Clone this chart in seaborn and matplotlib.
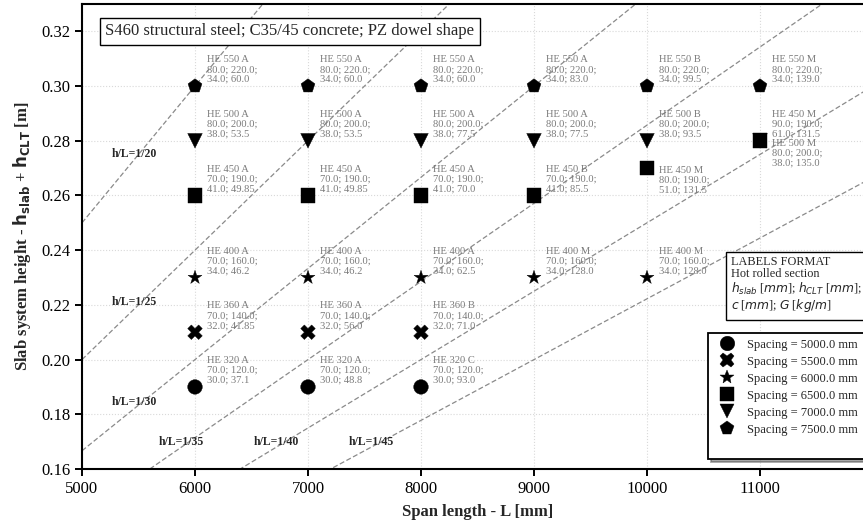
import matplotlib
matplotlib.use("Agg")
import matplotlib.pyplot as plt
import seaborn as sns
import numpy as np
import pandas as pd
from matplotlib.lines import Line2D

# ---------------- data ----------------
spacings = [5000.0, 5500.0, 6000.0, 6500.0, 7000.0, 7500.0]
marker_map = {5000.0: "o", 5500.0: "X", 6000.0: "*", 6500.0: "s", 7000.0: "v", 7500.0: "p"}

# spacing 5000 mm
L_5000 = [6000, 7000, 8000]
h_5000 = [0.19, 0.19, 0.19]
sec_5000 = ["HE 320 A", "HE 320 A", "HE 320 C"]
prm_5000 = [(70.0, 120.0, 30.0, 37.1), (70.0, 120.0, 30.0, 48.8), (70.0, 120.0, 30.0, 93.0)]
pos_5000 = ["above", "above", "above"]

# spacing 5500 mm
L_5500 = [6000, 7000, 8000]
h_5500 = [0.21, 0.21, 0.21]
sec_5500 = ["HE 360 A", "HE 360 A", "HE 360 B"]
prm_5500 = [(70.0, 140.0, 32.0, 41.85), (70.0, 140.0, 32.0, 56.0), (70.0, 140.0, 32.0, 71.0)]
pos_5500 = ["above", "above", "above"]

# spacing 6000 mm
L_6000 = [6000, 7000, 8000, 9000, 10000]
h_6000 = [0.23, 0.23, 0.23, 0.23, 0.23]
sec_6000 = ["HE 400 A", "HE 400 A", "HE 400 A", "HE 400 M", "HE 400 M"]
prm_6000 = [(70.0, 160.0, 34.0, 46.2), (70.0, 160.0, 34.0, 46.2), (70.0, 160.0, 34.0, 62.5),
            (70.0, 160.0, 34.0, 128.0), (70.0, 160.0, 34.0, 128.0)]
pos_6000 = ["above"] * 5

# spacing 7000 mm (drawn before 6500 so squares sit on top)
L_7000 = [6000, 7000, 8000, 9000, 10000, 11000]
h_7000 = [0.28, 0.28, 0.28, 0.28, 0.28, 0.28]
sec_7000 = ["HE 500 A", "HE 500 A", "HE 500 A", "HE 500 A", "HE 500 B", "HE 500 M"]
prm_7000 = [(80.0, 200.0, 38.0, 53.5), (80.0, 200.0, 38.0, 53.5), (80.0, 200.0, 38.0, 77.5),
            (80.0, 200.0, 38.0, 77.5), (80.0, 200.0, 38.0, 93.5), (80.0, 200.0, 38.0, 135.0)]
pos_7000 = ["above"] * 5 + ["below"]

# spacing 6500 mm
L_6500 = [6000, 7000, 8000, 9000, 10000, 11000]
h_6500 = [0.26, 0.26, 0.26, 0.26, 0.27, 0.28]
sec_6500 = ["HE 450 A", "HE 450 A", "HE 450 A", "HE 450 B", "HE 450 M", "HE 450 M"]
prm_6500 = [(70.0, 190.0, 41.0, 49.85), (70.0, 190.0, 41.0, 49.85), (70.0, 190.0, 41.0, 70.0),
            (70.0, 190.0, 41.0, 85.5), (80.0, 190.0, 51.0, 131.5), (90.0, 190.0, 61.0, 131.5)]
pos_6500 = ["above", "above", "above", "above", "below", "above"]

# spacing 7500 mm
L_7500 = [6000, 7000, 8000, 9000, 10000, 11000]
h_7500 = [0.30, 0.30, 0.30, 0.30, 0.30, 0.30]
sec_7500 = ["HE 550 A", "HE 550 A", "HE 550 A", "HE 550 A", "HE 550 B", "HE 550 M"]
prm_7500 = [(80.0, 220.0, 34.0, 60.0), (80.0, 220.0, 34.0, 60.0), (80.0, 220.0, 34.0, 60.0),
            (80.0, 220.0, 34.0, 83.0), (80.0, 220.0, 34.0, 99.5), (80.0, 220.0, 34.0, 139.0)]
pos_7500 = ["above"] * 6

# slenderness lines h/L = 1/n
ratios = [20, 25, 30, 35, 40, 45]
ratio_label_pos = {20: (5260, 0.2750), 25: (5260, 0.2210), 30: (5260, 0.1845),
                   35: (5680, 0.1700), 40: (6520, 0.1700), 45: (7360, 0.1700)}

groups = [
    (5000.0, L_5000, h_5000, sec_5000, prm_5000, pos_5000),
    (5500.0, L_5500, h_5500, sec_5500, prm_5500, pos_5500),
    (6000.0, L_6000, h_6000, sec_6000, prm_6000, pos_6000),
    (7000.0, L_7000, h_7000, sec_7000, prm_7000, pos_7000),
    (6500.0, L_6500, h_6500, sec_6500, prm_6500, pos_6500),
    (7500.0, L_7500, h_7500, sec_7500, prm_7500, pos_7500),
]

rows = []
for sp, Ls, hs, secs, prms, poss in groups:
    for L, h, s, p, ps in zip(Ls, hs, secs, prms, poss):
        rows.append(dict(L=L, h=h, Spacing=f"Spacing = {sp:.1f} mm", sec=s,
                         hslab=p[0], hclt=p[1], c=p[2], G=p[3], pos=ps))
df = pd.DataFrame(rows)

# ---------------- style ----------------
sns.set_style("white")
plt.rcParams["font.family"] = ["Liberation Serif", "DejaVu Serif"]
plt.rcParams["mathtext.fontset"] = "dejavusans"

fig = plt.figure(figsize=(8.63, 5.27), dpi=100)
ax = fig.add_axes([82 / 863, 58 / 527, 791 / 863, 465 / 527])

ax.set_xlim(5000, 12000)
ax.set_ylim(0.16, 0.33)
ax.set_xticks([5000, 6000, 7000, 8000, 9000, 10000, 11000])
ax.set_yticks(np.arange(0.16, 0.3301, 0.02))
ax.grid(True, linestyle=":", color="#d9d9d9", linewidth=0.8)
ax.set_axisbelow(True)

# slenderness lines
Lgrid = np.array([5000.0, 12000.0])
for n in ratios:
    ax.plot(Lgrid, Lgrid / n / 1000.0, color="#8a8a8a", lw=0.9, ls=(0, (4, 2)), zorder=1.5)
    tx, ty = ratio_label_pos[n]
    ax.text(tx, ty, f"h/L=1/{n}", fontsize=8.5, fontweight="bold", va="center", ha="left",
            zorder=3)

labels_order = [f"Spacing = {sp:.1f} mm" for sp in spacings]
markers = {f"Spacing = {sp:.1f} mm": marker_map[sp] for sp in spacings}
palette = {lab: "black" for lab in labels_order}

sns.scatterplot(data=df, x="L", y="h", hue="Spacing", style="Spacing",
                hue_order=labels_order, style_order=labels_order,
                markers=markers, palette=palette, s=110, edgecolor="black",
                linewidth=0.3, ax=ax, zorder=4, legend=True)

# point annotations
for _, r in df.iterrows():
    txt = f"{r['sec']}\n{r['hslab']:.1f}; {r['hclt']:.1f};\n{r['c']:.1f}; {r['G']}"
    va = "bottom" if r["pos"] == "above" else "top"
    ax.annotate(txt, (r["L"], r["h"]), xytext=(8.3, 1.5), textcoords="offset points",
                ha="left", va=va, fontsize=7.6, color="#7a7a7a",
                linespacing=1.12, zorder=5)

# legend with trailing blank row
handles, labels = ax.get_legend_handles_labels()
hl = [(h, l) for h, l in zip(handles, labels) if l in labels_order]
handles = [h for h, _ in hl] + [Line2D([], [], color="none")]
labels = [l for _, l in hl] + [" "]
leg = ax.legend(handles, labels, loc="lower left",
                bbox_to_anchor=((708 - 82) / 791, (469 - 459) / 465),
                borderaxespad=0, fontsize=9, frameon=True, shadow=True,
                fancybox=False, framealpha=1, edgecolor="black",
                handletextpad=0.6, labelspacing=0.4, borderpad=0.5,
                markerscale=1.0)
leg.get_frame().set_linewidth(1.3)
for h in leg.legend_handles:
    try:
        h.set_sizes([120])
    except Exception:
        pass

# title box
ax.text(5205, 0.3200, "S460 structural steel; C35/45 concrete; PZ dowel shape",
        fontsize=12, ha="left", va="center", zorder=6,
        bbox=dict(boxstyle="square,pad=0.33", fc="white", ec="black", lw=1.0))

# labels format box
ax.text(10745, 0.2380,
        "LABELS FORMAT\nHot rolled section\n$h_{slab}$ [$mm$]; $h_{CLT}$ [$mm$];\n$c$ [$mm$]; $G$ [$kg/m$]",
        fontsize=8.8, ha="left", va="top", zorder=6, linespacing=1.04,
        bbox=dict(boxstyle="square,pad=0.45", fc="white", ec="black", lw=1.0))

# axes cosmetics
for side in ["left", "bottom", "top", "right"]:
    ax.spines[side].set_color("black")
    ax.spines[side].set_linewidth(1.5)
ax.tick_params(axis="both", which="both", direction="out", length=5, width=1.4,
               labelsize=12, left=True, bottom=True, colors="black")
ax.set_xlabel("Span length - L [mm]", fontsize=12, fontweight="bold", labelpad=5)
ax.set_ylabel(r"Slab system height - $\mathbf{h_{slab}}$ + $\mathbf{h_{CLT}}$ [m]",
              fontsize=12, fontweight="bold", labelpad=6)

fig.savefig("out.png", dpi=100)
